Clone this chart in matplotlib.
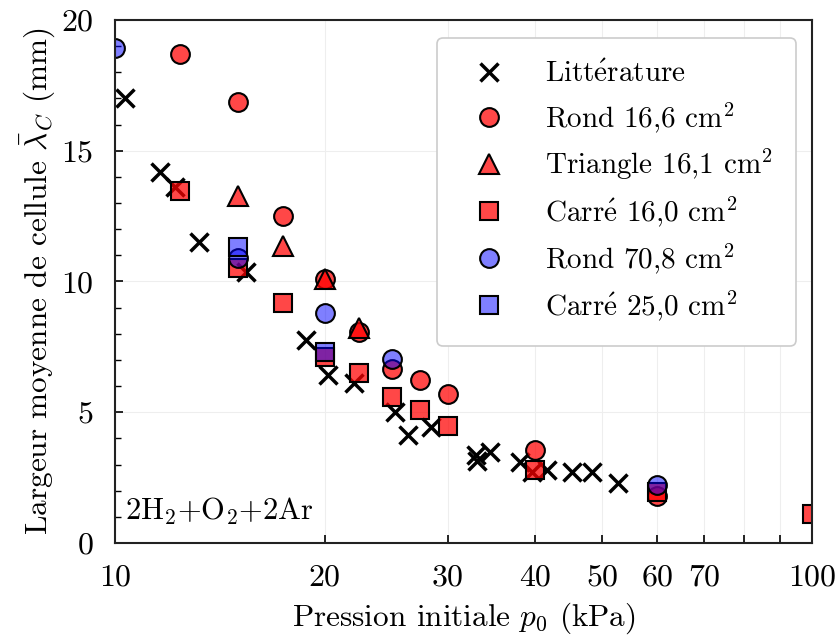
import matplotlib
matplotlib.use("Agg")
import matplotlib.pyplot as plt
from matplotlib.ticker import FixedLocator, FixedFormatter, MultipleLocator, NullFormatter

plt.rcParams["font.family"] = ["cmr10", "DejaVu Serif"]
plt.rcParams["mathtext.fontset"] = "cm"
plt.rcParams["axes.formatter.use_mathtext"] = True

E_ACUTE = r"$\acute{\mathrm{e}}$"

# Literature data
lit_p = [10.35, 11.6, 12.2, 13.2, 15.4, 18.8, 20.2, 22.0, 25.2, 26.3, 28.4,
         33.0, 33.1, 34.5, 38.1, 39.7, 41.7, 45.2, 48.3, 52.7]
lit_l = [17.0, 14.2, 13.6, 11.5, 10.35, 7.76, 6.42, 6.12, 5.01, 4.13, 4.44,
         3.37, 3.12, 3.48, 3.10, 2.70, 2.80, 2.72, 2.72, 2.29]

# Rond 16,6 cm2
rond16_p = [12.4, 15, 17.4, 20, 22.4, 25, 27.4, 30, 40, 60]
rond16_l = [18.7, 16.86, 12.5, 10.1, 8.07, 6.65, 6.23, 5.70, 3.56, 1.80]

# Triangle 16,1 cm2
tri_p = [15, 17.4, 20, 22.4]
tri_l = [13.27, 11.36, 10.1, 8.22]

# Carré 16,0 cm2
car16_p = [12.4, 15, 17.4, 20, 22.4, 25, 27.4, 30, 40, 60, 100]
car16_l = [13.46, 10.5, 9.18, 7.1, 6.5, 5.58, 5.09, 4.47, 2.79, 1.95, 1.1]

# Rond 70,8 cm2
rond70_p = [10, 15, 20, 25, 60]
rond70_l = [18.93, 10.9, 8.8, 7.04, 2.2]

# Carré 25,0 cm2
car25_p = [15, 20]
car25_l = [11.3, 7.3]

labels = ["Litt" + E_ACUTE + "rature",
          r"Rond 16,6 cm$^2$",
          r"Triangle 16,1 cm$^2$",
          "Carr" + E_ACUTE + r" 16,0 cm$^2$",
          r"Rond 70,8 cm$^2$",
          "Carr" + E_ACUTE + r" 25,0 cm$^2$"]

RED = (1.0, 0.0, 0.0, 0.72)
BLUE = (0.0, 0.0, 1.0, 0.5)

fig, ax = plt.subplots(figsize=(8.36, 6.44), dpi=100)

ms = 13.5
ax.plot(lit_p, lit_l, ls="none", marker="x", ms=13, mew=2.5, color="black",
        label=labels[0])
ax.plot(rond16_p, rond16_l, ls="none", marker="o", ms=ms, mfc=RED, mec="black",
        mew=1.5, label=labels[1])
ax.plot(tri_p, tri_l, ls="none", marker="^", ms=ms + 1, mfc=RED, mec="black",
        mew=1.5, label=labels[2])
ax.plot(car16_p, car16_l, ls="none", marker="s", ms=ms - 0.5, mfc=RED, mec="black",
        mew=1.5, label=labels[3])
ax.plot(rond70_p, rond70_l, ls="none", marker="o", ms=ms, mfc=BLUE, mec="black",
        mew=1.5, label=labels[4])
ax.plot(car25_p, car25_l, ls="none", marker="s", ms=ms - 0.5, mfc=BLUE, mec="black",
        mew=1.5, label=labels[5])

ax.set_xscale("log")
ax.set_xlim(10, 100)
ax.set_ylim(0, 20)

xt = [10, 20, 30, 40, 50, 60, 70, 80, 90, 100]
xl = ["10", "20", "30", "40", "50", "60", "70", "", "", "100"]
ax.xaxis.set_major_locator(FixedLocator(xt))
ax.xaxis.set_major_formatter(FixedFormatter(xl))
ax.xaxis.set_minor_locator(FixedLocator([]))
ax.xaxis.set_minor_formatter(NullFormatter())
ax.yaxis.set_major_locator(MultipleLocator(5))
ax.yaxis.set_minor_locator(MultipleLocator(1))

ax.tick_params(which="both", direction="in", labelsize=23, top=False, right=False)
ax.tick_params(which="major", length=6, width=1.2)
ax.tick_params(which="minor", length=4, width=1.0)
ax.tick_params(axis="x", which="major", pad=15.5)
ax.tick_params(axis="y", which="major", pad=15.5)
ax.grid(True, which="major", color="#eeeeee", lw=0.8)
ax.set_axisbelow(True)
for sp in ax.spines.values():
    sp.set_linewidth(1.5)
    sp.set_color("#222222")

ax.set_xlabel(r"Pression initiale $p_0$ (kPa)", fontsize=22.5, labelpad=6)
ax.set_ylabel(r"Largeur moyenne de cellule $\bar{\lambda}_C$ (mm)", fontsize=22.5,
              labelpad=3)

ax.text(0.014, 0.03, r"2H$_2$+O$_2$+2Ar", transform=ax.transAxes,
        fontsize=22, ha="left", va="bottom")

leg = ax.legend(loc="upper right", fontsize=21, frameon=True, fancybox=True,
                edgecolor="#cccccc", framealpha=1.0, borderpad=0.8,
                labelspacing=0.42, handlelength=2.0, handletextpad=0.9,
                bbox_to_anchor=(0.977, 0.966), borderaxespad=0.0)
leg.get_frame().set_linewidth(1.2)

fig.subplots_adjust(left=0.1376, right=0.9713, top=0.969, bottom=0.1568)
fig.savefig("out.png", dpi=100)
